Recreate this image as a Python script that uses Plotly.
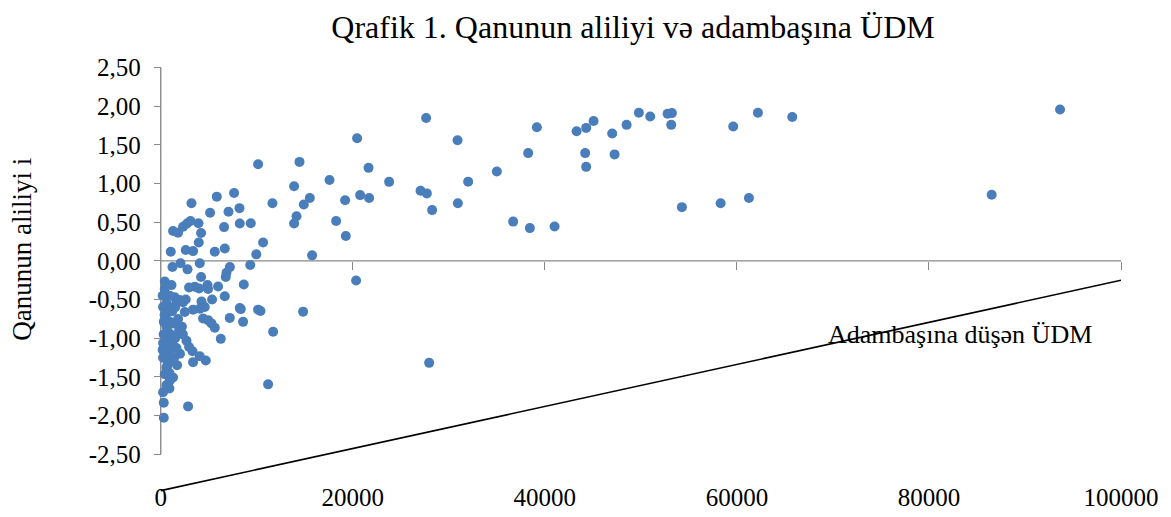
import plotly.graph_objects as go

# ---- data ----
gdp_per_capita = [
    23782, 27637, 30907, 27053, 27709, 28262, 30939, 32012, 35001, 36699, 38438, 41012,
    38262, 39168, 43303, 44303, 45074, 44199, 44303, 47012, 47262, 48512, 49793, 50970,
    52783, 53231, 53158, 54272, 58304, 59616, 61251, 62189, 65765, 86532, 93649,
    20449, 14448, 21636, 13886, 17573, 11630, 15521, 14896, 19199, 20761, 21698, 14136,
    13886, 18261, 19272, 15761,
    10137, 5834, 7636, 3198, 5136, 7053, 8198, 6594, 8230, 9375, 3927, 4198, 3958, 10657,
    9950, 1281, 1802, 2323, 2740, 3094, 1042, 2604, 3365, 5625, 6667,
    2052, 4063, 7200, 1219, 2782, 6844, 6771, 9320, 4198, 417, 1115, 2948, 3542, 3990,
    4865, 4927, 5969, 6667, 5344, 4240, 417, 938, 1458, 1979, 2323, 2500, 3365, 4063,
    4584, 8230, 8646, 8334, 10137, 10386, 14824, 8573, 11698, 11178, 20345, 27950,
    4406, 4927, 5282, 5625, 7188, 6250, 2677, 2948, 3302, 3365, 4063, 4688, 2844,
    417, 240, 594, 313, 938, 1281, 1906, 760, 1115, 240, 760, 1636, 417, 938, 240, 656,
    594, 417, 1281, 938, 594, 240, 313, 313,
    200, 600, 300, 500, 1500, 700, 1000, 200, 400, 800, 1200, 500, 1600, 1400, 900,
    1800, 2200, 2600, 2000, 1700, 1200, 2300, 600, 900, 1500,
]
rule_of_law = [
    1.022, 1.848, 1.559, 0.907, 0.873, 0.657, 0.746, 1.025, 1.156, 0.508, 0.424, 0.445,
    1.394, 1.728, 1.677, 1.720, 1.809, 1.394, 1.216, 1.648, 1.377, 1.759, 1.915, 1.868,
    1.902, 1.911, 1.759, 0.695, 0.746, 1.737, 0.813, 1.915, 1.860, 0.856, 1.957,
    1.585, 1.280, 1.203, 0.966, 1.047, 0.746, 0.813, 0.729, 0.784, 0.851, 0.813, 0.577,
    0.483, 0.517, 0.323, 0.072,
    1.250, 0.831, 0.877, 0.746, 0.623, 0.636, 0.682, 0.437, 0.483, 0.488, 0.488, 0.361,
    0.238, 0.238, 0.085, 0.386, 0.365, 0.441, 0.483, 0.517, 0.119, 0.140, 0.127, 0.119,
    0.161,
    -0.030, -0.030, -0.080, -0.078, -0.109, -0.152, -0.207, -0.052, -0.207, -0.267,
    -0.313, -0.343, -0.334, -0.356, -0.313, -0.363, -0.330, -0.457, -0.499, -0.525,
    -0.427, -0.449, -0.470, -0.504, -0.534, -0.661, -0.630, -0.618, -0.597, -0.610,
    -0.305, -0.623, -0.630, -0.648, -0.656, -0.788, -0.915, -1.596, -0.254, -1.318,
    -0.745, -0.766, -0.808, -0.864, -0.737, -1.008, -1.033, -1.113, -1.169, -1.309,
    -1.233, -1.287, -1.881,
    -0.364, -0.597, -0.682, -0.788, -0.788, -0.808, -0.893, -0.915, -0.957, -1.062,
    -1.084, -1.126, -1.147, -1.189, -1.253, -1.274, -1.380, -1.465, -1.507, -1.550,
    -1.605, -1.698, -1.834, -2.028,
    -0.450, -0.550, -0.950, -1.000, -1.000, -1.350, -1.300, -1.150, -0.700, -0.600,
    -0.650, -0.300, -0.550, -1.250, -1.450,
    -0.750, -0.850, -0.500, -1.200, -1.350, -1.050, -0.950, -0.850, -1.650, -0.600,
]
line_x = [0, 100000]
line_y = [-2.97, -0.25]

x_tick_vals = [0, 20000, 40000, 60000, 80000, 100000]
x_tick_text = ["0", "20000", "40000", "60000", "80000", "100000"]
y_tick_vals = [2.5, 2.0, 1.5, 1.0, 0.5, 0.0, -0.5, -1.0, -1.5, -2.0, -2.5]
y_tick_text = ["2,50", "2,00", "1,50", "1,00", "0,50", "0,00",
               "-0,50", "-1,00", "-1,50", "-2,00", "-2,50"]

title_text = "Qrafik 1. Qanunun aliliyi və adambaşına ÜDM"
y_title_text = "Qanunun aliliyi i"
line_label = "Adambaşına düşən ÜDM"

# ---- layout constants (page body has an 8px margin) ----
OFF = 8
FONT = "Liberation Serif"
AXIS_GRAY = "#898989"
XMIN, XMAX = -600, 100000
YMIN, YMAX = -3.13, 2.52
W, H = 1171 - OFF, 517 - OFF
ML, MR, MT, MB = 147, 50, 58, 6
plot_w = W - ML - MR
plot_h = H - MT - MB

x0_frac = (0 - XMIN) / (XMAX - XMIN)
y0_frac = (0 - YMIN) / (YMAX - YMIN)
label_axis_frac = (H - MB - (488 - OFF)) / plot_h

fig = go.Figure()
fig.add_trace(go.Scatter(
    x=gdp_per_capita, y=rule_of_law, mode="markers",
    marker=dict(color="#4A7EBB", size=10, line=dict(width=0)),
    cliponaxis=False, showlegend=False, xaxis="x", yaxis="y",
))
fig.add_trace(go.Scatter(
    x=line_x, y=line_y, mode="lines",
    line=dict(color="black", width=1.6),
    showlegend=False, xaxis="x2", yaxis="y",
))

# axis lines (x axis crosses at y=0, y axis spans tick range)
fig.add_shape(type="line", xref="x", yref="y", x0=0, x1=0,
              y0=y_tick_vals[-1], y1=y_tick_vals[0],
              line=dict(color=AXIS_GRAY, width=1.4), layer="below")
fig.add_shape(type="line", xref="x", yref="y", x0=x_tick_vals[0], x1=x_tick_vals[-1],
              y0=0, y1=0, line=dict(color=AXIS_GRAY, width=1.4), layer="below")

fig.add_annotation(text=line_label, xref="x", yref="y", x=83200, y=-0.95,
                   showarrow=False, font=dict(family=FONT, size=26, color="black"),
                   xanchor="center", yanchor="middle")
fig.add_annotation(text=y_title_text, xref="paper", yref="paper",
                   x=(22 - OFF - ML) / plot_w, y=(H - MB - (253 - OFF)) / plot_h,
                   textangle=-90, showarrow=False,
                   font=dict(family=FONT, size=27, color="black"),
                   xanchor="center", yanchor="middle")

fig.update_layout(
    width=W, height=H,
    margin=dict(l=ML, r=MR, t=MT, b=MB),
    paper_bgcolor="white", plot_bgcolor="white",
    font=dict(family=FONT, size=25, color="black"),
    title=dict(text=title_text, x=(633 - OFF) / W, xref="container", xanchor="center",
               y=1 - (27 - OFF) / H, yref="container", yanchor="middle",
               font=dict(family=FONT, size=32, color="black")),
    xaxis=dict(range=[XMIN, XMAX], anchor="free", position=label_axis_frac,
               showline=False, showgrid=False, zeroline=False, ticks="",
               tickvals=x_tick_vals, ticktext=x_tick_text,
               tickfont=dict(family=FONT, size=25, color="black")),
    xaxis2=dict(range=[XMIN, XMAX], overlaying="x", matches="x", anchor="free",
                position=y0_frac, side="bottom",
                showline=False, showgrid=False, zeroline=False,
                ticks="outside", ticklen=8, tickwidth=1.4, tickcolor=AXIS_GRAY,
                tickvals=x_tick_vals[1:], showticklabels=False),
    yaxis=dict(range=[YMIN, YMAX], anchor="free", position=x0_frac,
               showline=False, showgrid=False, zeroline=False,
               ticks="outside", ticklen=7, tickwidth=1.4, tickcolor=AXIS_GRAY,
               ticklabelstandoff=8,
               tickvals=y_tick_vals, ticktext=y_tick_text,
               tickfont=dict(family=FONT, size=25, color="black")),
)

fig.write_html("out.html")
